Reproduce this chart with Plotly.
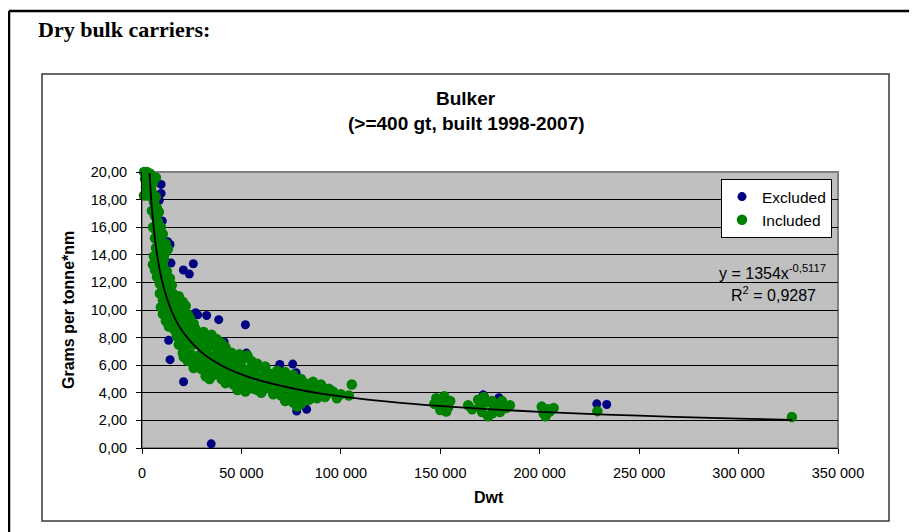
import plotly.graph_objects as go

# ---------------- data ----------------
excluded_dwt = [9600, 9600, 8700, 10200, 12900, 14100, 14600, 20800, 23800, 25800,
                27000, 28000, 32500, 38600, 52000, 13400, 41300, 14100, 52500, 20900,
                34800, 69300, 75800, 77500, 77800, 82800, 171600, 179500, 228700, 233700]
excluded_val = [19.10, 18.45, 17.95, 16.45, 14.95, 14.75, 13.40, 12.90, 12.60, 13.35,
                9.80, 9.65, 9.60, 9.30, 8.93, 7.80, 7.68, 6.40, 6.88, 4.80,
                0.30, 6.05, 6.08, 5.45, 2.68, 2.80, 3.85, 3.65, 3.20, 3.15]

included_dwt = [
    1000, 2500, 4000, 1500, 3500, 5500, 2000, 4500, 1000, 3000, 5500, 7000, 7000,
    6000, 7500, 8500, 6500, 8000, 5500, 7000, 8500, 5000, 9500,
    6500, 8000, 10000, 12000, 7000, 9500, 11500, 6000, 8500, 11000, 10500, 13000,
    5500, 8000, 10500, 6500, 9500, 12500, 7500, 11000, 14000, 9000, 12500, 15000, 10500,
    7000, 13000, 11000,
    9000, 12000, 15500, 18500, 10500, 14000, 17000, 20500, 9500, 12500, 16000, 19500, 22000,
    14500, 18000, 14000,
    10500, 13500, 17000, 20500, 24000, 12000, 15500, 19000, 22500, 26000,
    23000, 21000, 17000, 13500,
    15500, 19000, 23000, 27000, 31000, 35000, 17500, 21500, 25500, 29500, 33500, 37500,
    17000, 21000, 25000, 29000, 33000, 20000, 24000, 28000, 32000, 36000, 40000,
    18500, 22000, 26000, 30000, 34000, 38000, 42000, 20500, 24500, 28500, 32500, 36500, 40500, 44500,
    21000, 25000, 29000, 33000, 37000, 41000, 45000, 49000, 53000,
    23000, 27000, 31000, 35000, 39000, 43000, 47000, 51000, 55000, 26000, 30000, 34000, 38000,
    42000, 46000, 50000, 54000, 58000, 32000, 36000, 58000, 62000,
    28000, 32000, 36000, 40000, 44000, 48000, 52000, 56000, 34000,
    40000, 44000, 48000, 52000, 56000, 60000, 46000, 50000, 54000, 58000, 62000, 48000, 52000, 56000, 60000,
    42000, 50000, 54000, 58000, 62000,
    64000, 68000, 72000, 76000, 66000, 70000, 74000, 78000, 82000, 64000, 68000, 72000, 76000, 80000,
    84000, 88000, 66000, 70000, 74000, 78000, 82000, 86000, 90000, 94000, 72000, 76000, 80000, 84000,
    78000, 86000, 90000,
    66000, 70000, 74000, 78000, 62000, 66000, 70000, 74000, 80000, 68000, 72000, 76000, 80000,
    84000, 88000, 92000, 86000, 90000, 94000,
    96000, 100000, 104000, 98000, 105500,
    148000, 152000, 155000, 147000, 151000, 154000, 150000, 153000,
    164000, 166000, 169000, 170000, 172000, 173000, 171000, 174000, 176000, 177000, 179000, 181000,
    183000, 185000, 180000, 176000,
    201000, 204000, 207000, 202000, 203000, 205000,
    229000, 326800,
]
included_val = [
    20.0, 20.0, 19.9, 19.5, 19.4, 19.2, 18.9, 18.8, 18.3, 18.3, 18.4, 18.2, 19.6,
    17.8, 17.4, 17.1, 16.8, 16.4, 16.0, 15.8, 15.6, 17.2, 16.0,
    15.2, 15.0, 14.9, 14.8, 14.5, 14.3, 14.1, 13.9, 13.8, 13.7, 15.5, 14.4,
    13.3, 13.2, 13.3, 12.9, 12.7, 12.8, 12.4, 12.2, 12.3, 11.9, 11.7, 11.8, 11.5,
    13.5, 12.1, 11.4,
    11.2, 11.1, 11.2, 11.0, 10.7, 10.6, 10.5, 10.6, 10.2, 10.1, 10.0, 10.1, 10.3,
    10.9, 10.3, 9.9,
    9.7, 9.6, 9.5, 9.6, 9.4, 9.2, 9.1, 9.0, 9.1, 9.0,
    9.7, 9.3, 8.9, 8.8,
    8.7, 8.6, 8.5, 8.6, 8.4, 8.2, 8.1, 8.0, 8.1, 7.9, 7.8, 7.9,
    8.4, 8.3, 8.3, 8.2, 8.1, 7.7, 7.7, 7.6, 7.6, 7.5, 7.6,
    7.5, 7.4, 7.5, 7.3, 7.4, 7.2, 7.3, 6.9, 6.8, 6.7, 6.9, 6.7, 6.8, 6.6,
    6.6, 6.5, 6.4, 6.6, 6.4, 6.5, 6.9, 6.8, 6.7,
    6.3, 6.2, 6.1, 6.3, 6.0, 6.2, 6.4, 6.5, 6.3, 5.8, 5.7, 5.5, 5.7,
    5.6, 5.8, 5.9, 5.7, 5.8, 5.2, 5.3, 6.1, 5.9,
    6.0, 5.9, 5.9, 5.7, 5.4, 5.5, 5.4, 5.5, 5.0,
    5.0, 4.9, 5.1, 5.0, 5.2, 5.1, 4.6, 4.5, 4.7, 4.5, 4.7, 4.2, 4.1, 4.3, 4.0,
    4.7, 4.8, 4.4, 4.2, 4.3,
    5.4, 5.6, 5.5, 5.3, 4.9, 5.0, 4.8, 4.9, 4.7, 4.4, 4.3, 4.4, 4.2, 4.4,
    4.5, 4.3, 3.9, 3.8, 3.7, 3.9, 4.0, 3.8, 3.9, 4.0, 3.4, 3.3, 3.2, 3.5,
    3.0, 4.8, 4.6,
    4.6, 4.6, 4.5, 4.6, 5.3, 5.2, 5.3, 5.1, 5.0, 4.0, 3.6, 3.6, 3.6,
    4.2, 3.6, 3.7, 4.1, 4.2, 4.3,
    4.1, 3.9, 3.8, 3.6, 4.6,
    3.6, 3.75, 3.4, 3.2, 3.1, 2.95, 2.75, 2.65,
    3.1, 2.8, 3.5, 3.0, 3.7, 3.3, 2.6, 2.3, 3.4, 2.9, 3.1, 3.4,
    2.9, 3.1, 2.6, 2.5,
    3.0, 2.8, 2.9, 2.5, 2.3, 2.65,
    2.67, 2.25,
]

# power trendline as drawn (y = 1354x^-0,5117)
trend_dwt = [3800, 5000, 7000, 10000, 15000, 20000, 30000, 40000, 50000, 60000,
             80000, 100000, 130000, 160000, 200000, 250000, 300000, 327000]
trend_val = [19.94, 17.34, 14.59, 12.15, 9.88, 8.53, 6.93, 5.98, 5.33, 4.86,
             4.20, 3.74, 3.27, 2.94, 2.62, 2.34, 2.13, 2.04]

x_ticks = [0, 50000, 100000, 150000, 200000, 250000, 300000, 350000]

title_line1 = "Bulker"
title_line2 = "(>=400 gt, built 1998-2007)"
heading = "Dry bulk carriers:"
equation = "y = 1354x<sup>-0,5117</sup>"
r2_text = "R<sup>2</sup> = 0,9287"

# ---------------- layout geometry (screen pixels) ----------------
OFF = 8                      # page body margin in the browser
SW, SH = 917, 532            # screen size
W, H = SW - OFF, SH - OFF    # figure size
L, R, T, B = 142, 838, 172, 448   # plot area on screen


def px(x):
    return (x - L) / (R - L)


def py(y):
    return (B - y) / (B - T)


SANS = "Liberation Sans, Arial, sans-serif"

fig = go.Figure()
fig.add_trace(go.Scatter(
    x=excluded_dwt, y=excluded_val, mode="markers", name="Excluded",
    marker=dict(color="#000080", size=9, symbol="circle", line=dict(width=0)),
    cliponaxis=False))
fig.add_trace(go.Scatter(
    x=included_dwt, y=included_val, mode="markers", name="Included",
    marker=dict(color="#008000", size=10.5, symbol="circle", line=dict(width=0)),
    cliponaxis=False))
fig.add_trace(go.Scatter(
    x=trend_dwt, y=trend_val, mode="lines", showlegend=False,
    line=dict(color="black", width=1.8, shape="spline")))

fig.update_layout(
    width=W, height=H,
    margin=dict(l=L - OFF, r=SW - R, t=T - OFF, b=SH - B, pad=0),
    paper_bgcolor="white", plot_bgcolor="#C0C0C0",
    separators=", ",
    font=dict(family=SANS, color="black", size=14),
    legend=dict(x=px(832), y=py(179), xanchor="right", yanchor="top",
                bgcolor="white", bordercolor="black", borderwidth=1,
                font=dict(family=SANS, size=15.5, color="black"),
                itemwidth=30, tracegroupgap=0),
)
fig.update_xaxes(range=[0, 350000], tickvals=x_ticks, tickformat=",d",
                 showgrid=False, zeroline=False, showline=True,
                 linecolor="black", linewidth=1, ticks="outside", ticklen=5,
                 tickcolor="black", tickfont=dict(family=SANS, size=14.5),
                 ticklabelstandoff=7, fixedrange=True)
fig.update_yaxes(range=[0, 20], dtick=2, tickformat=".2f",
                 showgrid=True, gridcolor="black", gridwidth=1,
                 zeroline=False, showline=True, linecolor="black", linewidth=1,
                 ticks="outside", ticklen=5, tickcolor="black",
                 tickfont=dict(family=SANS, size=14.5),
                 ticklabelstandoff=6, fixedrange=True)

shapes = [
    # document frame (top and left rule)
    dict(type="line", xref="paper", yref="paper", x0=px(9), x1=px(917), y0=py(11), y1=py(11),
         line=dict(color="black", width=2.5), layer="above"),
    dict(type="line", xref="paper", yref="paper", x0=px(9), x1=px(9), y0=py(11), y1=py(532),
         line=dict(color="black", width=2.5), layer="above"),
    # chart area border
    dict(type="rect", xref="paper", yref="paper", x0=px(42), x1=px(889), y0=py(74), y1=py(521),
         line=dict(color="#3a3a3a", width=1.5), fillcolor="rgba(0,0,0,0)", layer="below"),
    # plot area border
    dict(type="rect", xref="paper", yref="paper", x0=0, x1=1, y0=0, y1=1,
         line=dict(color="#808080", width=2), fillcolor="rgba(0,0,0,0)", layer="between"),
]
fig.update_layout(shapes=shapes)

annotations = [
    dict(text="<b>" + heading + "</b>", x=px(36), y=py(30), xanchor="left", yanchor="middle",
         font=dict(family="Liberation Serif, Times New Roman, serif", size=22, color="black")),
    dict(text="<b>" + title_line1 + "</b>", x=px(466), y=py(99), xanchor="center", yanchor="middle",
         font=dict(family=SANS, size=19, color="black")),
    dict(text="<b>" + title_line2 + "</b>", x=px(466), y=py(123), xanchor="center", yanchor="middle",
         font=dict(family=SANS, size=19, color="black")),
    dict(text=equation, x=px(828), y=py(272), xanchor="right", yanchor="middle",
         font=dict(family=SANS, size=16, color="black")),
    dict(text=r2_text, x=px(818), y=py(294), xanchor="right", yanchor="middle",
         font=dict(family=SANS, size=16, color="black")),
    dict(text="<b>Dwt</b>", x=px(489), y=py(497), xanchor="center", yanchor="middle",
         font=dict(family=SANS, size=16, color="black")),
    dict(text="<b>Grams per tonne*nm</b>", x=px(68), y=py(310), xanchor="center", yanchor="middle",
         textangle=-90, font=dict(family=SANS, size=16, color="black")),
]
for a in annotations:
    a.update(xref="paper", yref="paper", showarrow=False)
fig.update_layout(annotations=annotations)

fig.write_html("out.html")
